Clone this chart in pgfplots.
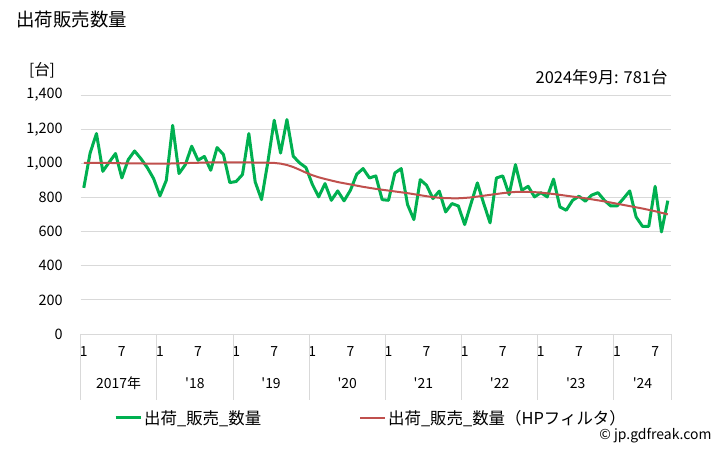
\documentclass[border=0pt]{standalone}
\usepackage{fontspec}
\setmainfont{Noto Sans CJK JP}
\usepackage{pgfplots}
\pgfplotsset{compat=1.18}
\usepackage{pgfplotstable}

\definecolor{sales}{HTML}{00B050}
\definecolor{trend}{HTML}{C0504D}
\definecolor{gridgray}{HTML}{D9D9D9}

% k = months since Jan 2017, v = shipments, hp = HP-filter trend
\pgfplotstableread{
k v hp
0 856 1002
1 1060 1002
2 1174 1002
3 953 1002
4 1006 1002
5 1057 1001
6 914 1000
7 1021 1000
8 1072 999
9 1027 999
10 975 998
11 910 998
12 809 998
13 900 998
14 1222 999
15 940 1000
16 992 1001
17 1100 1002
18 1018 1003
19 1040 1004
20 959 1005
21 1092 1006
22 1051 1006
23 887 1006
24 893 1006
25 934 1005
26 1174 1005
27 891 1004
28 787 1004
29 1008 1003
30 1252 1002
31 1060 998
32 1256 990
33 1041 978
34 1002 962
35 975 945
36 877 930
37 803 918
38 881 908
39 783 899
40 838 890
41 780 883
42 842 876
43 936 869
44 969 862
45 914 856
46 926 850
47 787 845
48 783 840
49 943 835
50 969 830
51 758 825
52 670 819
53 904 813
54 871 807
55 793 802
56 837 798
57 715 796
58 764 795
59 750 795
60 641 797
61 764 800
62 885 805
63 764 810
64 651 815
65 914 820
66 926 825
67 817 829
68 992 832
69 842 833
70 865 833
71 803 831
72 828 828
73 803 824
74 907 820
75 744 815
76 725 810
77 783 805
78 807 800
79 778 795
80 813 789
81 828 783
82 783 777
83 750 770
84 750 763
85 793 756
86 838 749
87 686 742
88 631 735
89 631 727
90 865 719
91 598 710
92 781 701
}\data

\begin{document}
\begin{tikzpicture}[x=1bp,y=1bp]
\path[use as bounding box, fill=white] (0,0) rectangle (728,450);

\node[anchor=west, font=\fontsize{18.5}{22}\selectfont] at (13,430) {出荷販売数量};
\node[font=\fontsize{15.5}{18}\selectfont] at (42,380) {[台]};
\node[anchor=east, font=\fontsize{16.5}{19}\selectfont] at (671,373) {2024年9月: 781台};
\node[anchor=east, font=\fontsize{14}{16}\selectfont] at (715,14) {© jp.gdfreak.com};

\begin{axis}[
    at={(80.6bp,116bp)}, anchor=south west,
    width=590.4bp, height=239bp, scale only axis,
    xmin=-0.5, xmax=92.5,
    ymin=0, ymax=1400,
    clip=false,
    axis line style={draw=none},
    major tick length=0pt,
    ymajorgrids, grid style={gridgray, line width=0.8bp},
    ytick={0,200,400,600,800,1000,1200,1400},
    yticklabels={0,200,400,600,800,{1,000},{1,200},{1,400}},
    xtick={0,6,12,18,24,30,36,42,48,54,60,66,72,78,84,90},
    xticklabels={1,7,1,7,1,7,1,7,1,7,1,7,1,7,1,7},
    tick label style={font=\fontsize{14}{16}\selectfont},
    yticklabel style={font=\fontsize{14.5}{16}\selectfont, xshift=-14.5bp},
    xticklabel style={anchor=center, yshift=-18bp},
    legend columns=2,
    legend style={at={(0.0515,-0.351)}, anchor=west, draw=none, fill=none,
        font=\fontsize{16.5}{19}\selectfont},
    legend image code/.code={\draw[#1] (0bp,0bp) -- (25bp,0bp);},
]
\addplot[sales, line width=3bp, line join=round] table[x=k, y=v] {\data};
\addlegendentry[text width=213bp]{出荷\_販売\_数量}
\addplot[trend, line width=2bp] table[x=k, y=hp] {\data};
\addlegendentry{出荷\_販売\_数量（HPフィルタ）}

% year separators below the axis
\draw[gridgray, line width=0.8bp] (axis cs:-0.5,0) -- (axis cs:-0.5,-387);
\draw[gridgray, line width=0.8bp] (axis cs:11.5,0) -- (axis cs:11.5,-387);
\draw[gridgray, line width=0.8bp] (axis cs:23.5,0) -- (axis cs:23.5,-387);
\draw[gridgray, line width=0.8bp] (axis cs:35.5,0) -- (axis cs:35.5,-387);
\draw[gridgray, line width=0.8bp] (axis cs:47.5,0) -- (axis cs:47.5,-387);
\draw[gridgray, line width=0.8bp] (axis cs:59.5,0) -- (axis cs:59.5,-387);
\draw[gridgray, line width=0.8bp] (axis cs:71.5,0) -- (axis cs:71.5,-387);
\draw[gridgray, line width=0.8bp] (axis cs:83.5,0) -- (axis cs:83.5,-387);
\draw[gridgray, line width=0.8bp] (axis cs:92.5,0) -- (axis cs:92.5,-387);

\begin{scope}[font=\fontsize{14}{16}\selectfont]
\node at (axis cs:5.5,-287) {2017年};
\node at (axis cs:17.5,-287) {\textquotesingle18};
\node at (axis cs:29.5,-287) {\textquotesingle19};
\node at (axis cs:41.5,-287) {\textquotesingle20};
\node at (axis cs:53.5,-287) {\textquotesingle21};
\node at (axis cs:65.5,-287) {\textquotesingle22};
\node at (axis cs:77.5,-287) {\textquotesingle23};
\node at (axis cs:88,-287) {\textquotesingle24};
\end{scope}
\end{axis}
\end{tikzpicture}
\end{document}
